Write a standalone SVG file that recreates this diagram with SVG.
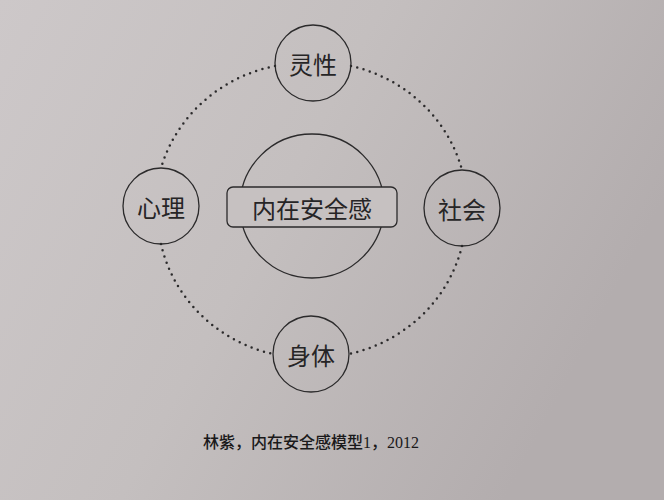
<svg xmlns="http://www.w3.org/2000/svg" width="664" height="500" viewBox="0 0 664 500">
<defs>
<linearGradient id="bg" x1="0" y1="0" x2="1" y2="0.4">
<stop offset="0" stop-color="#cdc8c9"/>
<stop offset="0.5" stop-color="#c4bfbf"/>
<stop offset="1" stop-color="#b3adae"/>
</linearGradient>
<style>
.node{fill:none;stroke:#2b2a2b;stroke-width:1.3}
.lbl{font-family:"Noto Sans CJK SC",sans-serif;font-size:24px;fill:#262526;text-anchor:middle;dominant-baseline:central}
.dot{fill:none;stroke:#2b2a2b;stroke-width:2.5;stroke-linecap:round;stroke-dasharray:0 6.5}
.cap{font-family:"Liberation Serif","Noto Sans CJK SC",serif;font-size:16px;font-weight:500;fill:#1a191a;text-anchor:middle}
</style>
</defs>
<rect width="664" height="500" fill="url(#bg)"/>
<g id="connectors">
<path class="dot" d="M275,66 A150,145 0 0 0 161,168"/>
<path class="dot" d="M351,66 A150,145 0 0 1 462,170"/>
<path class="dot" d="M161,244 A150,145 0 0 0 273,354"/>
<path class="dot" d="M462,246 A150,145 0 0 1 349,354"/>
</g>
<g id="center">
<circle class="node" cx="312" cy="206" r="72"/>
<rect x="227" y="187" width="170" height="40" rx="6" fill="#c6c1c1" stroke="#2b2a2b" stroke-width="1.3"/>
<text class="lbl" x="312" y="207">内在安全感</text>
</g>
<g id="spirit">
<circle class="node" cx="313" cy="63" r="38"/>
<text class="lbl" x="313" y="63">灵性</text>
</g>
<g id="psych">
<circle class="node" cx="161" cy="206" r="38"/>
<text class="lbl" x="161" y="206">心理</text>
</g>
<g id="social">
<circle class="node" cx="462" cy="208" r="38"/>
<text class="lbl" x="462" y="208">社会</text>
</g>
<g id="body">
<circle class="node" cx="311" cy="354" r="38"/>
<text class="lbl" x="311" y="354">身体</text>
</g>
<text class="cap" x="311" y="448">林紫，内在安全感模型1，2012</text>
</svg>
